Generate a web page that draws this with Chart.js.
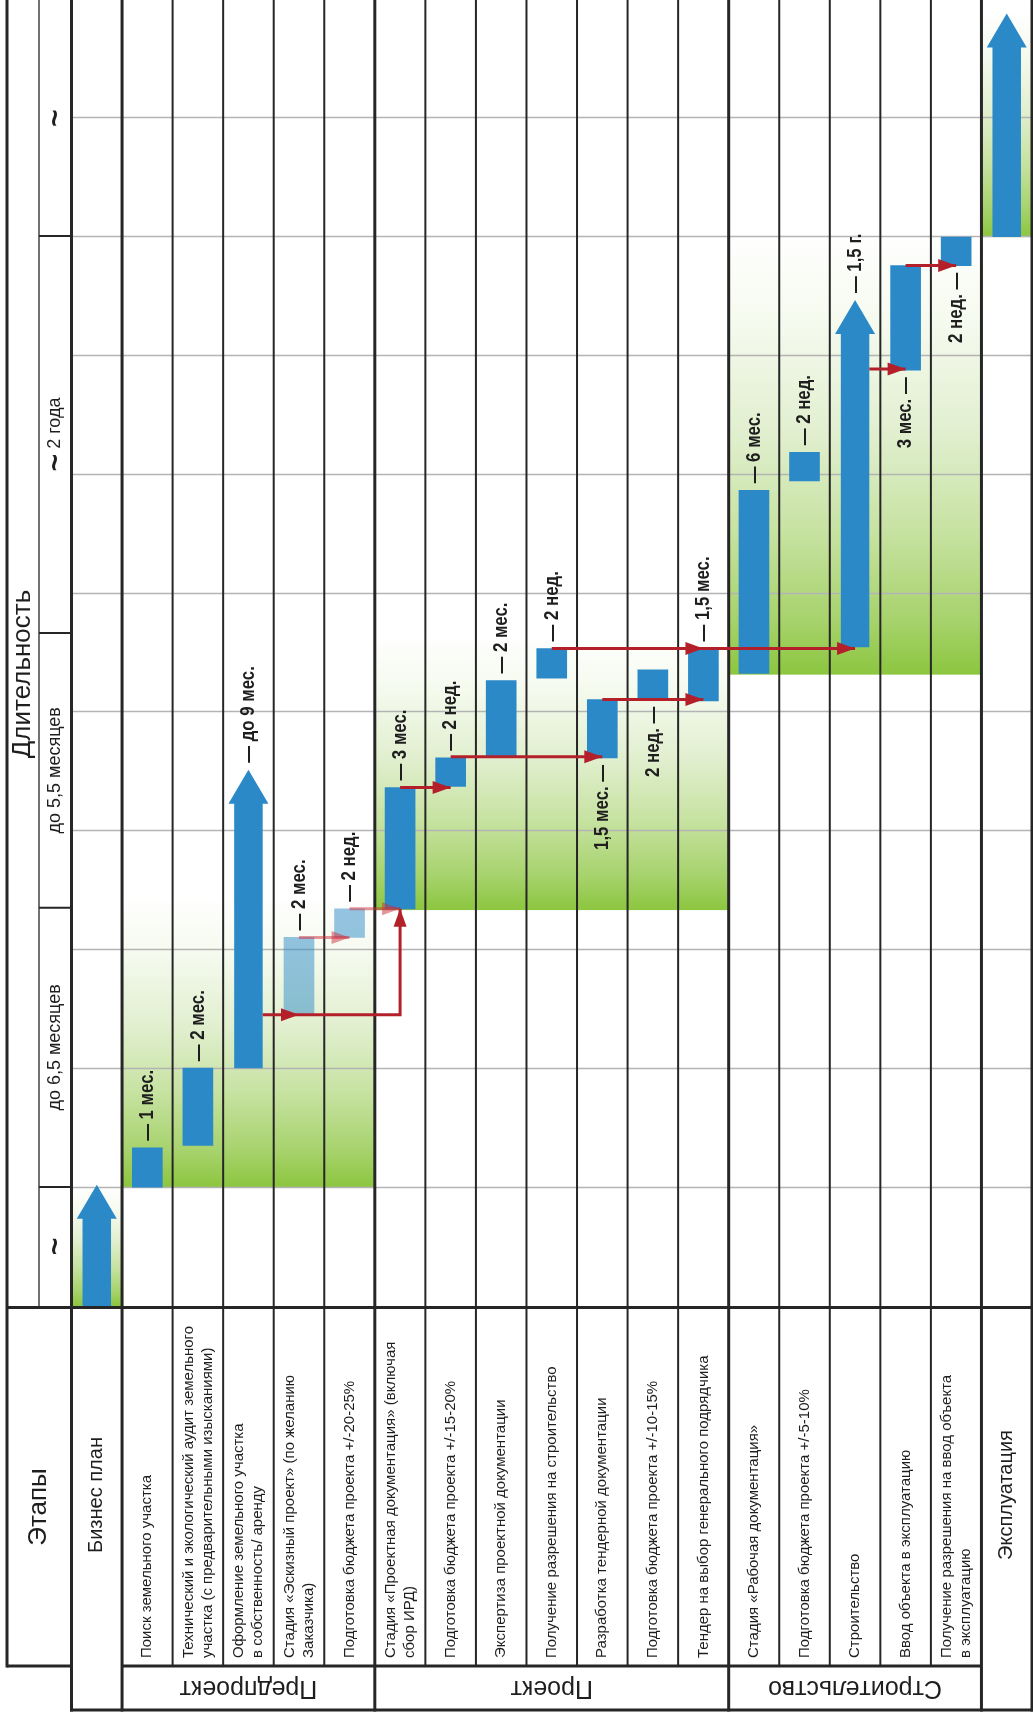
<!DOCTYPE html>
<html>
<head>
<meta charset="utf-8">
<script src="https://cdn.jsdelivr.net/npm/chart.js@4.4.0/dist/chart.umd.min.js"></script>
<style>
  html, body { margin: 0; padding: 0; background: #fff; }
  #wrap { position: relative; width: 1033px; height: 1717px; }
</style>
</head>
<body>
<div id="wrap"><canvas id="myChart"></canvas></div>
<script>
// rows of the schedule (image is drawn with time running upwards)
const rowLabels = [
  'Бизнес план',
  'Поиск земельного участка',
  ['Технический и экологический аудит земельного', 'участка (с предварительными изысканиями)'],
  ['Оформление земельного участка', 'в собственность/ аренду'],
  ['Стадия «Эскизный проект» (по желанию', 'Заказчика)'],
  'Подготовка бюджета проекта +/-20-25%',
  ['Стадия «Проектная документация» (включая', 'сбор ИРД)'],
  'Подготовка бюджета проекта +/-15-20%',
  'Экспертиза проектной документации',
  'Получение разрешения на строительство',
  'Разработка тендерной документации',
  'Подготовка бюджета проекта +/-10-15%',
  'Тендер на выбор генерального подрядчика',
  'Стадия «Рабочая документация»',
  'Подготовка бюджета проекта +/-5-10%',
  'Строительство',
  'Ввод объекта в эксплуатацию',
  ['Получение разрешения на ввод объекта', 'в эксплуатацию'],
  'Эксплуатация'
];

const phaseNames = ['Предпроект', 'Проект', 'Строительство'];
const phaseFirstRow = [1, 6, 13];
const phaseLastRow = [5, 12, 17];

// time in grid units (one grid step ~ one division of the scale)
const barStart = [0, 1.0, 1.35, 2.0, 2.45, 3.1, 3.34, 4.37, 4.62, 5.28, 4.61, 5.10, 5.09, 5.32, 6.94, 5.54, 7.87, 8.75, 8.99];
const barEnd   = [1.02, 1.33, 2.0, 4.51, 3.1, 3.34, 4.36, 4.61, 5.26, 5.53, 5.10, 5.35, 5.53, 6.86, 7.18, 8.46, 8.75, 8.99, 10.87];
const barType  = ['arrow', 'bar', 'bar', 'arrow', 'light', 'light', 'bar', 'bar', 'bar', 'bar', 'bar', 'bar', 'bar', 'bar', 'bar', 'arrow', 'bar', 'bar', 'arrow'];

const noteText = ['', '— 1 мес.', '— 2 мес.', '— до 9 мес.', '— 2 мес.', '— 2 нед.', '— 3 мес.', '— 2 нед.', '— 2 мес.', '— 2 нед.',
  '1,5 мес. —', '2 нед. —', '— 1,5 мес.', '— 6 мес.', '— 2 нед.', '— 1,5 г.', '3 мес. —', '2 нед. —', ''];
const noteSide = ['', 'end', 'end', 'end', 'end', 'end', 'end', 'end', 'end', 'end',
  'start', 'start', 'end', 'end', 'end', 'end', 'start', 'start', ''];

const durationTicks = [0, 1, 3.35, 5.66, 9, 10.98];
const durationLabels = ['~', 'до 6,5 месяцев', 'до 5,5 месяцев', '~ 2 года', '~'];

// green background bands
const bandFirstRow = [0, 1, 6, 13, 18];
const bandLastRow = [0, 5, 12, 17, 18];
const bandStart = [0, 1, 3.33, 5.31, 8.99];
const bandEnd = [1.0, 3.45, 5.65, 9.0, 10.9];

// red links: [row, time] points, heads at listed point indexes
const linkPoints = [
  [[3, 2.45], [4, 2.45], [6, 2.45], [6, 3.34]],
  [[4, 3.1], [5, 3.1]],
  [[5, 3.34], [6, 3.34]],
  [[6, 4.36], [7, 4.36]],
  [[7, 4.62], [10, 4.62]],
  [[10, 5.10], [12, 5.10]],
  [[9, 5.53], [12, 5.53], [15, 5.53]],
  [[15, 7.88], [16, 7.88]],
  [[16, 8.75], [17, 8.75]]
];
const linkHeads = [[1, 3], [1], [1], [1], [1], [1], [1, 2], [1], [1]];
const linkFromEdge = [true, false, false, false, false, false, false, true, false];
const linkFaded = [false, true, true, false, false, false, false, false, false];

const BLUE = '#2b89c8';
const RED = '#b3202a';
const RED_FADED = 'rgba(205, 45, 60, 0.5)';
const LINE = '#262626';
const TEXT = '#1e1e1e';
const FONT = '"Liberation Sans", Arial, sans-serif';
const NOTE_FONT = 'bold 21px "Liberation Sans", Arial, sans-serif';
const NOTE_SQUEEZE = 0.8;
const LEFT_EDGE = 7, HEAD_SPLIT = 39, LABEL_BOTTOM = 1666, TABLE_BOTTOM = 1710;
const SHAFT = 28.5, HEAD_W = 40, HEAD_L = 34;

function pick(type) {
  return barStart.map((s, i) => barType[i] === type ? [s, barEnd[i]] : null);
}

function rotText(ctx, str, x, y, angle, align, squeeze) {
  ctx.save();
  ctx.translate(x, y);
  ctx.rotate(angle);
  if (squeeze) ctx.scale(squeeze, 1);
  ctx.textAlign = align;
  ctx.textBaseline = 'middle';
  ctx.fillText(str, 0, 0);
  ctx.restore();
}

function line(ctx, x1, y1, x2, y2, w, c) {
  ctx.beginPath();
  ctx.moveTo(x1, y1);
  ctx.lineTo(x2, y2);
  ctx.lineWidth = w;
  ctx.strokeStyle = c || LINE;
  ctx.stroke();
}

function edges(chart) {
  const xs = chart.scales.x;
  const step = xs.getPixelForValue(1) - xs.getPixelForValue(0);
  const out = [];
  for (let i = 0; i <= rowLabels.length; i++) out.push(xs.getPixelForValue(0) + (i - 0.5) * step);
  return out;
}

// duration label with a large tilde in front
function durationText(ctx, lab, x, y) {
  const big = 'bold 30px ' + FONT, small = '18px ' + FONT;
  const hasTilde = lab.startsWith('~');
  const rest = hasTilde ? lab.slice(1) : lab;
  ctx.font = big;
  const wt = hasTilde ? ctx.measureText('~').width : 0;
  ctx.font = small;
  const wr = rest ? ctx.measureText(rest).width : 0;
  ctx.save();
  ctx.translate(x, y);
  ctx.rotate(-Math.PI / 2);
  ctx.textAlign = 'left';
  ctx.textBaseline = 'middle';
  let pos = -(wt + wr) / 2;
  if (hasTilde) {
    ctx.font = big;
    ctx.fillText('~', pos, 1);
    pos += wt;
  }
  if (rest) {
    ctx.font = small;
    ctx.fillText(rest, pos, 0);
  }
  ctx.restore();
}

const ganttPlugin = {
  id: 'gantt',
  beforeDatasetsDraw(chart) {
    const ctx = chart.ctx, xs = chart.scales.x, ys = chart.scales.y, ca = chart.chartArea;
    const ed = edges(chart);
    ctx.save();
    // bands
    bandStart.forEach((s, i) => {
      const yb = ys.getPixelForValue(s), yt = ys.getPixelForValue(bandEnd[i]);
      const g = ctx.createLinearGradient(0, yb, 0, yt);
      g.addColorStop(0, '#8cc63f');
      g.addColorStop(0.12, '#a6d26b');
      g.addColorStop(0.32, '#c6e2a0');
      g.addColorStop(0.55, '#e1efcf');
      g.addColorStop(0.8, '#f5faee');
      g.addColorStop(1, '#ffffff');
      ctx.fillStyle = g;
      ctx.fillRect(ed[bandFirstRow[i]], yt, ed[bandLastRow[i] + 1] - ed[bandFirstRow[i]], yb - yt);
    });
    // grid
    for (let v = 1; v <= 10; v++) {
      const y = Math.round(ys.getPixelForValue(v)) + 0.5;
      line(ctx, ca.left, y, ca.right, y, 1.3, '#b4b4b4');
    }
    // table lines
    const bottom = ys.getPixelForValue(0) + 1.5;
    const thick = [0, 1, 6, 13, 18, 19];
    ed.forEach((x, k) => {
      const isThick = thick.includes(k);
      line(ctx, x, 0, x, isThick ? TABLE_BOTTOM + 1.5 : LABEL_BOTTOM, isThick ? 3 : 2);
    });
    line(ctx, LEFT_EDGE, 0, LEFT_EDGE, LABEL_BOTTOM + 1.5, 3);
    line(ctx, HEAD_SPLIT, 0, HEAD_SPLIT, bottom, 1.3);
    line(ctx, LEFT_EDGE, bottom, ed[19] + 1.5, bottom, 3);
    line(ctx, LEFT_EDGE, LABEL_BOTTOM, ed[0], LABEL_BOTTOM, 3);
    line(ctx, ed[1], LABEL_BOTTOM, ed[18], LABEL_BOTTOM, 3);
    line(ctx, ed[0] - 1.5, TABLE_BOTTOM, ed[19] + 1.5, TABLE_BOTTOM, 3);
    durationTicks.slice(1, -1).forEach(t => {
      const y = ys.getPixelForValue(t);
      line(ctx, HEAD_SPLIT, y, ed[0], y, 2);
    });
    ctx.restore();
  },
  afterDatasetsDraw(chart) {
    const ctx = chart.ctx, xs = chart.scales.x, ys = chart.scales.y;
    ctx.save();
    // arrows
    const arrows = chart.getDatasetMeta(0).data;
    barType.forEach((t, i) => {
      if (t !== 'arrow') return;
      const el = arrows[i];
      const top = Math.min(el.y, el.base), bot = Math.max(el.y, el.base);
      ctx.beginPath();
      ctx.moveTo(el.x - SHAFT / 2, bot);
      ctx.lineTo(el.x - SHAFT / 2, top + HEAD_L);
      ctx.lineTo(el.x - HEAD_W / 2, top + HEAD_L);
      ctx.lineTo(el.x, top);
      ctx.lineTo(el.x + HEAD_W / 2, top + HEAD_L);
      ctx.lineTo(el.x + SHAFT / 2, top + HEAD_L);
      ctx.lineTo(el.x + SHAFT / 2, bot);
      ctx.closePath();
      ctx.fillStyle = BLUE;
      ctx.fill();
    });
    // links
    linkPoints.forEach((pts, i) => {
      const col = linkFaded[i] ? RED_FADED : RED;
      const px = pts.map((p, k) => {
        let x = xs.getPixelForValue(p[0]);
        if (k === 0 && linkFromEdge[i]) x += SHAFT / 2;
        return [x, ys.getPixelForValue(p[1])];
      });
      ctx.beginPath();
      ctx.moveTo(px[0][0], px[0][1]);
      for (let k = 1; k < px.length; k++) ctx.lineTo(px[k][0], px[k][1]);
      ctx.lineWidth = 3;
      ctx.strokeStyle = col;
      ctx.lineJoin = 'miter';
      ctx.stroke();
      linkHeads[i].forEach(k => {
        const [x2, y2] = px[k], [x1, y1] = px[k - 1];
        const len = Math.hypot(x2 - x1, y2 - y1), dx = (x2 - x1) / len, dy = (y2 - y1) / len;
        ctx.beginPath();
        ctx.moveTo(x2, y2);
        ctx.lineTo(x2 - dx * 18 - dy * 6.5, y2 - dy * 18 + dx * 6.5);
        ctx.lineTo(x2 - dx * 18 + dy * 6.5, y2 - dy * 18 - dx * 6.5);
        ctx.closePath();
        ctx.fillStyle = col;
        ctx.fill();
      });
    });
    // duration notes
    ctx.fillStyle = TEXT;
    ctx.font = NOTE_FONT;
    noteText.forEach((txt, i) => {
      if (!txt) return;
      const meta = chart.getDatasetMeta(['arrow', 'bar', 'light'].indexOf(barType[i]));
      const el = meta.data[i];
      const top = Math.min(el.y, el.base), bot = Math.max(el.y, el.base);
      if (noteSide[i] === 'end') rotText(ctx, txt, el.x, top - 7, -Math.PI / 2, 'left', NOTE_SQUEEZE);
      else rotText(ctx, txt, el.x, bot + 7, -Math.PI / 2, 'right', NOTE_SQUEEZE);
    });
    ctx.restore();
  },
  afterDraw(chart) {
    const ctx = chart.ctx, xs = chart.scales.x, ys = chart.scales.y;
    const ed = edges(chart);
    ctx.save();
    ctx.fillStyle = TEXT;
    // header
    ctx.font = '26px ' + FONT;
    rotText(ctx, 'Длительность', (LEFT_EDGE + HEAD_SPLIT) / 2, 674, -Math.PI / 2, 'center');
    rotText(ctx, 'Этапы', (LEFT_EDGE + ed[0]) / 2, 1507, -Math.PI / 2, 'center');
    durationLabels.forEach((lab, i) => {
      const y = ys.getPixelForValue((durationTicks[i] + durationTicks[i + 1]) / 2);
      durationText(ctx, lab, (HEAD_SPLIT + ed[0]) / 2, y);
    });
    // row labels
    rowLabels.forEach((lab, i) => {
      const cx = xs.getPixelForValue(i);
      if (i === 0 || i === rowLabels.length - 1) {
        ctx.font = '20px ' + FONT;
        rotText(ctx, lab, cx, 1495, -Math.PI / 2, 'center');
        return;
      }
      ctx.font = '15px ' + FONT;
      const lines = Array.isArray(lab) ? lab : [lab];
      lines.forEach((ln, j) => {
        rotText(ctx, ln, cx + (j - (lines.length - 1) / 2) * 19, 1658, -Math.PI / 2, 'left');
      });
    });
    // phase names (upside down)
    ctx.font = '25px ' + FONT;
    phaseNames.forEach((p, i) => {
      const cx = (ed[phaseFirstRow[i]] + ed[phaseLastRow[i] + 1]) / 2;
      rotText(ctx, p, cx, (LABEL_BOTTOM + TABLE_BOTTOM) / 2, Math.PI, 'center');
    });
    ctx.restore();
  }
};

const config = {
  type: 'bar',
  data: {
    labels: rowLabels,
    datasets: [
      { label: 'arrows', data: pick('arrow'), backgroundColor: 'rgba(0,0,0,0)' },
      { label: 'bars', data: pick('bar'), backgroundColor: BLUE },
      { label: 'optional', data: pick('light'), backgroundColor: 'rgba(43, 137, 200, 0.5)' }
    ]
  },
  options: {
    responsive: true,
    maintainAspectRatio: false,
    animation: false,
    layout: { padding: { left: 71.5, right: 1, top: 0, bottom: 411 } },
    datasets: { bar: { grouped: false, barThickness: 30, borderWidth: 0, skipNull: true } },
    plugins: { legend: { display: false }, tooltip: { enabled: false } },
    scales: {
      x: { type: 'category', display: false, offset: true },
      y: { min: 0, max: 10.984, display: false }
    }
  },
  plugins: [ganttPlugin]
};

var ctx = document.getElementById('myChart').getContext('2d');
var chart = new Chart(ctx, config);
</script>
</body>
</html>
